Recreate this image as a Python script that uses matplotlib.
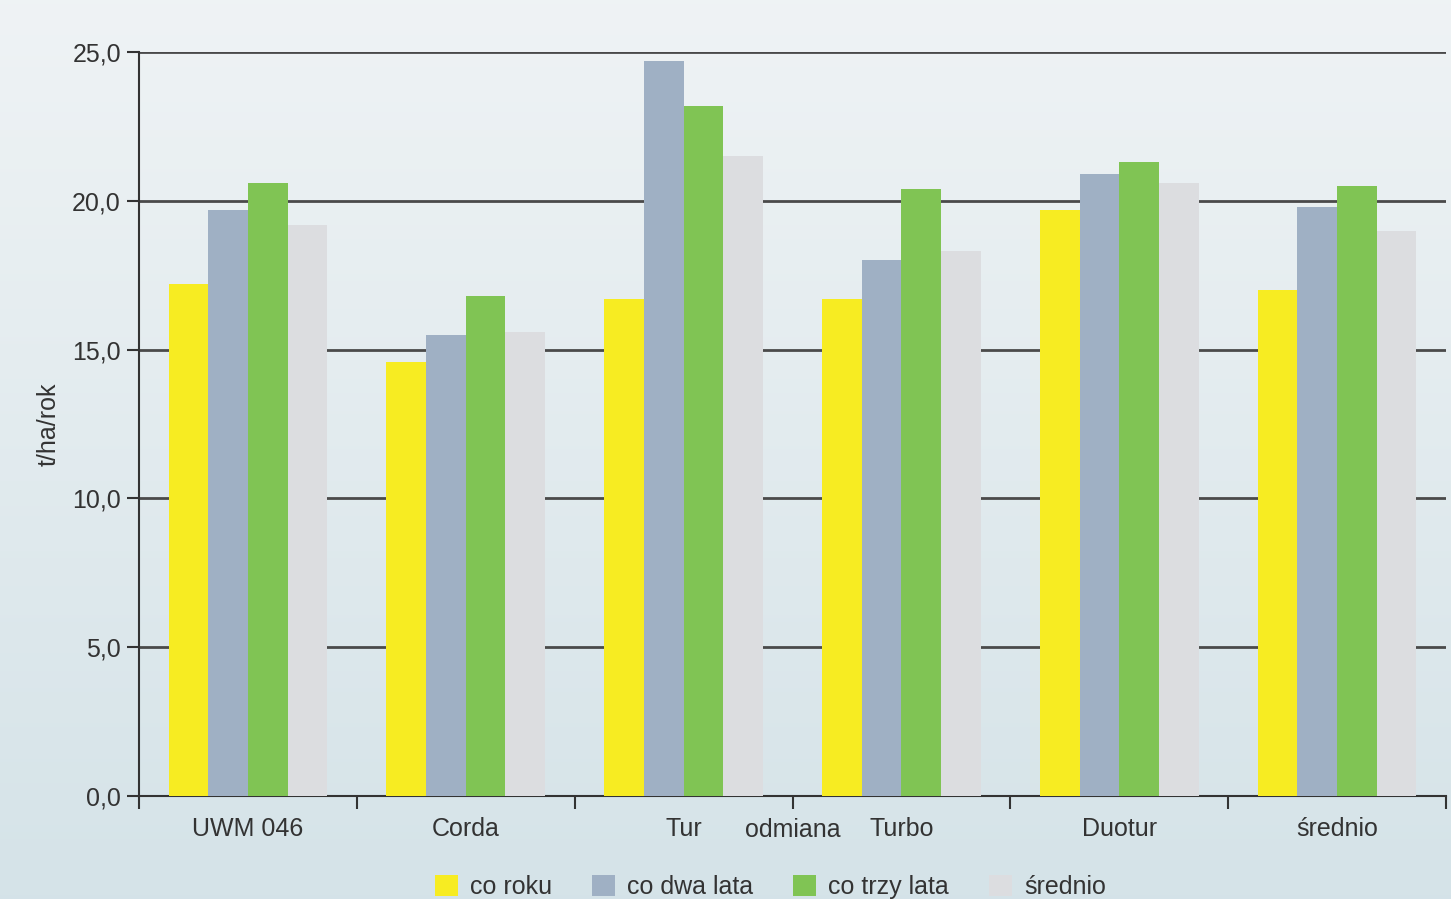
import matplotlib.pyplot as plt
import numpy as np

plt.rcParams['font.family'] = ['Liberation Sans Narrow', 'Liberation Sans', 'DejaVu Sans']

# dane
odmiany = ['UWM 046', 'Corda', 'Tur', 'Turbo', 'Duotur', 'średnio']
serie = ['co roku', 'co dwa lata', 'co trzy lata', 'średnio']
co_roku = [17.2, 14.6, 16.7, 16.7, 19.7, 17.0]
co_dwa_lata = [19.7, 15.5, 24.7, 18.0, 20.9, 19.8]
co_trzy_lata = [20.6, 16.8, 23.2, 20.4, 21.3, 20.5]
srednio = [19.2, 15.6, 21.5, 18.3, 20.6, 19.0]
y_ticks = [0, 5, 10, 15, 20, 25]
y_labels = ['0,0', '5,0', '10,0', '15,0', '20,0', '25,0']

kolory = ['#f7ec22', '#9fb0c4', '#80c454', '#dcdde0']
wartosci = [co_roku, co_dwa_lata, co_trzy_lata, srednio]

fig = plt.figure(figsize=(14.51, 8.99), dpi=100)

# tlo z gradientem
bg = fig.add_axes([0, 0, 1, 1], zorder=-10)
grad = np.linspace(0, 1, 256).reshape(-1, 1)
top = np.array([0.937, 0.953, 0.960])
bot = np.array([0.835, 0.890, 0.910])
img = top + (bot - top) * grad[:, :, None]
bg.imshow(img, aspect='auto', extent=[0, 1, 0, 1])
bg.axis('off')

ax = fig.add_axes([0.0958, 0.1146, 0.9008, 0.8274])
ax.patch.set_alpha(0)

x = np.arange(len(odmiany))
w = 0.182
for i, (vals, c, lab) in enumerate(zip(wartosci, kolory, serie)):
    ax.bar(x + (i - 1.5) * w, vals, width=w, color=c, label=lab, zorder=3)

ax.set_xlim(-0.5, len(odmiany) - 0.5)
ax.set_ylim(0, 25)
ax.set_yticks(y_ticks)
ax.set_yticklabels(y_labels)
ax.yaxis.grid(True, color='#4a4a4a', linewidth=2, zorder=1)
ax.set_axisbelow(True)

ax.set_xticks(x)
ax.set_xticklabels(odmiany)
ax.set_xticks(np.arange(len(odmiany) + 1) - 0.5, minor=True)
ax.tick_params(axis='x', which='major', length=0, pad=15, labelsize=18, labelcolor='#333333')
ax.tick_params(axis='x', which='minor', length=9, width=1.5, color='#333333', direction='out')
ax.tick_params(axis='y', length=9, width=1.5, color='#333333', direction='out', pad=4,
               labelsize=18, labelcolor='#333333')

for s in ['top', 'right']:
    ax.spines[s].set_visible(False)
ax.spines['left'].set_color('#333333')
ax.spines['left'].set_linewidth(1.5)
ax.spines['bottom'].set_color('#333333')
ax.spines['bottom'].set_linewidth(1.5)

ax.set_xlabel('odmiana', fontsize=18, color='#333333')
ax.xaxis.set_label_coords(0.5, -0.029)
ax.set_ylabel('t/ha/rok', fontsize=18, color='#333333', labelpad=8)

fig.legend(loc='lower center', bbox_to_anchor=(0.531, -0.025), ncol=4, frameon=False,
           fontsize=18, handlelength=0.9, handleheight=0.9, handletextpad=0.5,
           columnspacing=1.6, labelcolor='#333333')

fig.savefig('out.png', dpi=100)
